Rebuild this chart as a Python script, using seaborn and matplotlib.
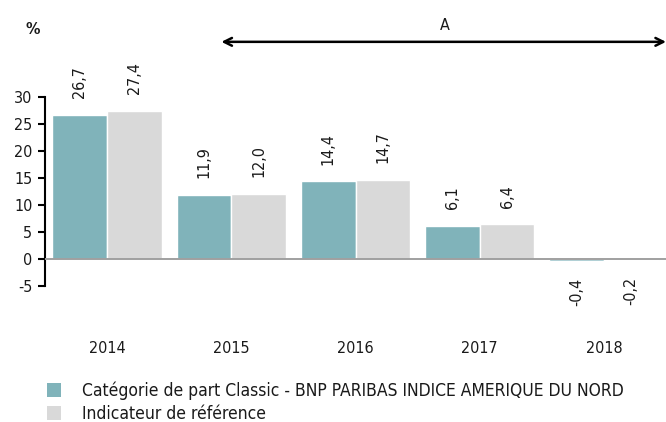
import matplotlib
matplotlib.use('Agg')
import matplotlib.pyplot as plt
import seaborn as sns
import pandas as pd
from matplotlib.patches import Patch

years = ['2014', '2015', '2016', '2017', '2018']
fund = [26.7, 11.9, 14.4, 6.1, -0.4]
bench = [27.4, 12.0, 14.7, 6.4, -0.2]
series_names = ['Catégorie de part Classic - BNP PARIBAS INDICE AMERIQUE DU NORD',
                'Indicateur de référence']
colors = ['#80b3ba', '#d9d9d9']

sns.set_theme(style='white')
plt.rcParams['font.family'] = ['DejaVu Sans']
plt.rcParams['font.stretch'] = 'condensed'
plt.rcParams['text.color'] = '#1a1a1a'
plt.rcParams['axes.unicode_minus'] = False

df = pd.DataFrame({
    'year': years * 2,
    'value': fund + bench,
    'series': [series_names[0]] * 5 + [series_names[1]] * 5,
})

fig = plt.figure(figsize=(6.66, 4.22), dpi=100)
ax = fig.add_axes([0.0676, 0.3223, 0.9324, 0.448])
sns.barplot(data=df, x='year', y='value', hue='series', palette=colors,
            width=0.88, saturation=1, ax=ax, legend=False)

ax.set_xlim(-0.5, 4.5)
ax.set_ylim(-5, 30)
ax.set_yticks(range(-5, 31, 5))
ax.axhline(0, color='#a0a0a0', lw=1.4, zorder=3)
for s in ['top', 'right', 'bottom']:
    ax.spines[s].set_visible(False)
ax.spines['left'].set_color('black')
ax.spines['left'].set_linewidth(1.5)
ax.tick_params(axis='y', left=True, length=5, width=1.5, color='black',
               labelsize=11.5, pad=4, labelcolor='#1a1a1a')
ax.tick_params(axis='x', bottom=False, labelsize=11.5, pad=33.5, labelcolor='#1a1a1a')
ax.set_xlabel('')
ax.set_ylabel('')

# value labels
for cont in ax.containers:
    for bar in cont:
        v = bar.get_height()
        x = bar.get_x() + bar.get_width() / 2
        txt = f'{v:.1f}'.replace('.', ',')
        if v >= 0:
            ax.annotate(txt, (x, v), xytext=(0, 12), textcoords='offset points',
                        rotation=90, ha='center', va='bottom', fontsize=11.5,
                        annotation_clip=False)
        else:
            ax.annotate(txt, (x, v), xytext=(0, -12), textcoords='offset points',
                        rotation=90, ha='center', va='top', fontsize=11.5,
                        annotation_clip=False)

# arrow and labels on top
ax.annotate('', xy=(0.92, 40.2), xytext=(4.5, 40.2),
            arrowprops=dict(arrowstyle='<->', color='black', lw=1.8,
                            shrinkA=0, shrinkB=0, mutation_scale=14),
            annotation_clip=False)
ax.text(2.72, 43.3, 'A', ha='center', va='center', fontsize=11.5, clip_on=False)
ax.text(-0.6, 42.4, '%', ha='center', va='center', fontsize=11.5,
        fontweight='bold', clip_on=False)

handles = [Patch(facecolor=c, edgecolor='none') for c in colors]
fig.legend(handles, series_names, loc='upper left', bbox_to_anchor=(0.06, 0.113),
           frameon=False, fontsize=12.5, handlelength=0.8, handleheight=0.85,
           handletextpad=1.2, labelspacing=0.3, borderaxespad=0)

fig.savefig('out.png', dpi=100)
